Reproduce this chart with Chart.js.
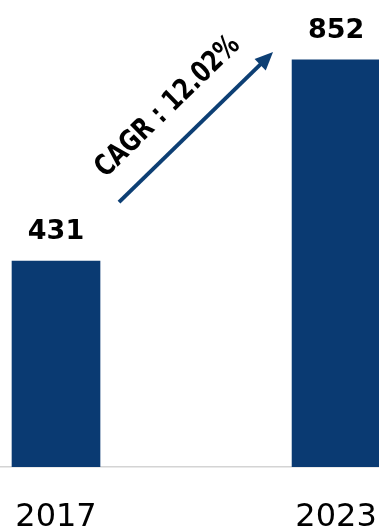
<!DOCTYPE html>
<html>
<head>
<meta charset="utf-8">
<script src="https://cdn.jsdelivr.net/npm/chart.js@4"></script>
<style>
  html, body { margin: 0; padding: 0; background: #fff; overflow: hidden; }
  #wrap { width: 379px; height: 530px; }
</style>
</head>
<body>
<div id="wrap"><canvas id="myChart" width="379" height="530"></canvas></div>
<script>
const years = [2017, 2023]
const values = [431, 852]
const cagrText = "CAGR : 12.02%"
// arrow ends, in data units (year, value)
const arrowStart = [2018.35, 554]
const arrowEnd = [2021.65, 868]

const barColor = "#0a3a72"

// draws the number over each bar plus the CAGR arrow
const overlayPlugin = {
    id: "overlay",
    afterDatasetsDraw(chart) {
        const ctx = chart.ctx
        const xs = chart.scales.x
        const ys = chart.scales.y
        const meta = chart.getDatasetMeta(0)

        ctx.save()
        ctx.fillStyle = "#000"
        ctx.font = "bold 27px 'DejaVu Sans'"
        ctx.textAlign = "center"
        ctx.textBaseline = "alphabetic"
        meta.data.forEach(function (bar, i) {
            ctx.fillText(String(values[i]), bar.x, bar.y - 22)
        })

        const x1 = xs.getPixelForValue(arrowStart[0])
        const y1 = ys.getPixelForValue(arrowStart[1])
        const x2 = xs.getPixelForValue(arrowEnd[0])
        const y2 = ys.getPixelForValue(arrowEnd[1])
        const ang = Math.atan2(y2 - y1, x2 - x1)
        const len = Math.hypot(x2 - x1, y2 - y1)

        ctx.translate(x1, y1)
        ctx.rotate(ang)
        ctx.strokeStyle = "#0d3f74"
        ctx.fillStyle = "#0d3f74"
        ctx.lineWidth = 4
        ctx.beginPath()
        ctx.moveTo(0, 0)
        ctx.lineTo(len - 14, 0)
        ctx.stroke()
        ctx.beginPath()
        ctx.moveTo(len, 0)
        ctx.lineTo(len - 18, -8)
        ctx.lineTo(len - 18, 8)
        ctx.closePath()
        ctx.fill()

        // narrower, taller lettering like the original
        ctx.translate(len / 2 - 6, -34)
        ctx.scale(0.78, 1)
        ctx.fillStyle = "#000"
        ctx.font = "bold 29px 'DejaVu Sans'"
        ctx.textAlign = "center"
        ctx.textBaseline = "middle"
        ctx.fillText(cagrText, 0, 0)
        ctx.restore()
    }
}

new Chart(document.getElementById("myChart"), {
    type: "bar",
    data: {
        datasets: [{
            data: years.map((y, i) => ({ x: y, y: values[i] })),
            backgroundColor: barColor,
            barThickness: 88
        }]
    },
    options: {
        responsive: false,
        animation: false,
        plugins: { legend: { display: false }, tooltip: { enabled: false } },
        layout: { padding: 0 },
        scales: {
            x: {
                type: "linear",
                min: 2015.8,
                max: 2023.92,
                offset: false,
                grid: { display: false, drawTicks: false },
                border: { display: true, color: "#d4d4d4", width: 1.5 },
                afterBuildTicks(axis) {
                    axis.ticks = years.map(v => ({ value: v }))
                },
                afterFit(axis) {
                    axis.height = 63
                    axis.paddingLeft = 0
                    axis.paddingRight = 0
                },
                ticks: {
                    autoSkip: false,
                    maxRotation: 0,
                    padding: 31,
                    color: "#000",
                    font: { family: "'DejaVu Sans'", size: 32 },
                    callback: v => String(v)
                }
            },
            y: {
                display: false,
                min: 0,
                max: 977
            }
        }
    },
    plugins: [overlayPlugin]
})
</script>
</body>
</html>
